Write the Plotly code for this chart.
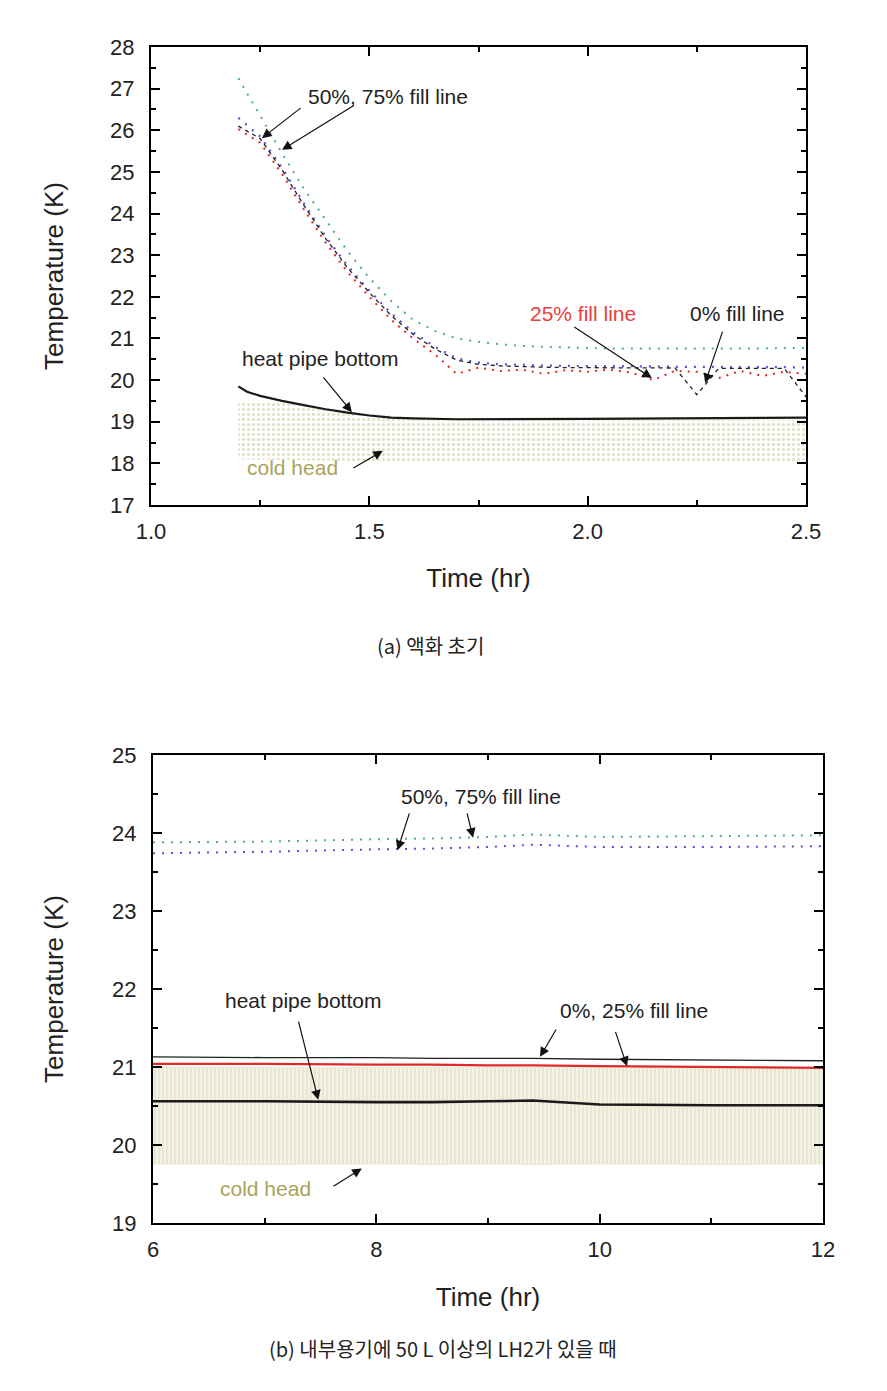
import plotly.graph_objects as go

# ---------------- (a) data ----------------
t_a = [1.20, 1.25, 1.30, 1.35, 1.40, 1.45, 1.50, 1.55, 1.60, 1.65, 1.70, 1.75, 1.80, 1.85,
       1.90, 1.95, 2.00, 2.05, 2.10, 2.15, 2.20, 2.25, 2.30, 2.35, 2.40, 2.45, 2.50]
fill75_a = [27.25, 26.35, 25.45, 24.6, 23.85, 23.1, 22.45, 21.9, 21.45, 21.18, 21.0, 20.92, 20.86, 20.82,
            20.8, 20.78, 20.77, 20.76, 20.76, 20.75, 20.75, 20.75, 20.75, 20.76, 20.76, 20.77, 20.77]
fill50_a = [26.3, 25.85, 25.1, 24.25, 23.45, 22.75, 22.15, 21.6, 21.15, 20.8, 20.52, 20.42, 20.38, 20.36,
            20.35, 20.34, 20.34, 20.33, 20.33, 20.33, 20.32, 20.32, 20.32, 20.31, 20.31, 20.31, 20.3]
fill25_a = [26.03, 25.7, 24.95, 24.1, 23.3, 22.6, 22.0, 21.45, 21.0, 20.62, 20.15, 20.3, 20.22, 20.25,
            20.15, 20.24, 20.2, 20.25, 20.18, 20.0, 20.22, 20.2, 20.05, 20.22, 20.1, 20.2, 20.15]
fill0_a = [26.1, 25.8, 25.05, 24.2, 23.4, 22.7, 22.1, 21.55, 21.1, 20.75, 20.48, 20.38, 20.34, 20.32,
           20.31, 20.3, 20.3, 20.3, 20.29, 20.29, 20.29, 19.65, 20.28, 20.28, 20.28, 20.28, 19.6]
t_hp_a = [1.20, 1.22, 1.25, 1.30, 1.35, 1.40, 1.45, 1.50, 1.55, 1.60, 1.70, 1.80, 2.00, 2.20, 2.40, 2.50]
hp_a = [19.85, 19.72, 19.62, 19.5, 19.4, 19.3, 19.22, 19.15, 19.1, 19.08, 19.06, 19.06, 19.07, 19.08, 19.09, 19.1]
t_ch_a = [1.20, 1.30, 1.40, 1.50, 1.60, 1.70, 1.80, 2.00, 2.20, 2.40, 2.50]
ch_hi_a = [19.5, 19.45, 19.35, 19.2, 19.1, 19.05, 19.05, 19.05, 19.05, 19.05, 19.05]
ch_lo_a = [18.1, 18.08, 18.06, 18.05, 18.05, 18.05, 18.05, 18.05, 18.05, 18.05, 18.05]

# ---------------- (b) data ----------------
t_b = [6, 7, 8, 8.5, 9, 9.4, 10, 11, 12]
fill75_b = [23.88, 23.89, 23.92, 23.93, 23.95, 23.98, 23.95, 23.96, 23.97]
fill50_b = [23.74, 23.76, 23.79, 23.8, 23.82, 23.85, 23.82, 23.82, 23.83]
fill0_b = [21.13, 21.12, 21.12, 21.11, 21.11, 21.11, 21.1, 21.09, 21.08]
fill25_b = [21.04, 21.04, 21.03, 21.03, 21.02, 21.02, 21.01, 21.0, 20.99]
hp_b = [20.56, 20.56, 20.55, 20.55, 20.56, 20.57, 20.52, 20.51, 20.51]
ch_hi_b = [21.0, 21.0, 21.0, 21.0, 21.0, 21.0, 21.0, 20.99, 20.98]
ch_lo_b = [19.75, 19.74, 19.75, 19.74, 19.75, 19.74, 19.75, 19.74, 19.75]

x_ticks_a = [1.0, 1.5, 2.0, 2.5]
x_ticks_b = [6, 8, 10, 12]

TEAL = "#4fa9a6"
PURPLE = "#5b4fd6"
RED = "#e02828"
KHAKI = "#a9a45a"
FONT = "Liberation Sans, Arial, sans-serif"

fig = go.Figure()

def add_band(t, lo, hi, xa, ya, shape, fg, bg, size, sol):
    fig.add_trace(go.Scatter(x=t, y=lo, mode="lines", line=dict(width=0, color=fg),
                             xaxis=xa, yaxis=ya, showlegend=False, hoverinfo="skip"))
    fig.add_trace(go.Scatter(x=t, y=hi, mode="lines", line=dict(width=0, color=fg),
                             fill="tonexty", fillcolor=bg,
                             fillpattern=dict(shape=shape, fgcolor=fg, bgcolor=bg, size=size, solidity=sol),
                             xaxis=xa, yaxis=ya, showlegend=False, hoverinfo="skip"))

# (a)
add_band(t_ch_a, ch_lo_a, ch_hi_a, "x", "y", ".", "#c2bd88", "rgba(255,255,255,0)", 5, 0.3)
fig.add_trace(go.Scatter(x=t_a, y=fill75_a, mode="lines", line=dict(color=TEAL, width=2, dash="2px,7px"),
                         xaxis="x", yaxis="y", showlegend=False))
fig.add_trace(go.Scatter(x=t_a, y=fill25_a, mode="lines", line=dict(color=RED, width=2, dash="2px,6px"),
                         xaxis="x", yaxis="y", showlegend=False))
fig.add_trace(go.Scatter(x=t_a, y=fill50_a, mode="lines", line=dict(color=PURPLE, width=2.2, dash="2px,7px"),
                         xaxis="x", yaxis="y", showlegend=False))
fig.add_trace(go.Scatter(x=t_a, y=fill0_a, mode="lines", line=dict(color="#222222", width=1.3, dash="4px,4px"),
                         xaxis="x", yaxis="y", showlegend=False))
fig.add_trace(go.Scatter(x=t_hp_a, y=hp_a, mode="lines", line=dict(color="#1a1a1a", width=2.2),
                         xaxis="x", yaxis="y", showlegend=False))

# (b)
add_band(t_b, ch_lo_b, ch_hi_b, "x2", "y2", "|", "#cfc9a6", "#f4f2e4", 4, 0.3)
fig.add_trace(go.Scatter(x=t_b, y=fill75_b, mode="lines", line=dict(color=TEAL, width=2, dash="2px,7px"),
                         xaxis="x2", yaxis="y2", showlegend=False))
fig.add_trace(go.Scatter(x=t_b, y=fill50_b, mode="lines", line=dict(color=PURPLE, width=2, dash="2px,7px"),
                         xaxis="x2", yaxis="y2", showlegend=False))
fig.add_trace(go.Scatter(x=t_b, y=fill0_b, mode="lines", line=dict(color="#222222", width=1.4),
                         xaxis="x2", yaxis="y2", showlegend=False))
fig.add_trace(go.Scatter(x=t_b, y=fill25_b, mode="lines", line=dict(color=RED, width=2.2),
                         xaxis="x2", yaxis="y2", showlegend=False))
fig.add_trace(go.Scatter(x=t_b, y=hp_b, mode="lines", line=dict(color="#1a1a1a", width=2.6),
                         xaxis="x2", yaxis="y2", showlegend=False))

W, H = 887, 1391

def xdom(l, r):
    return [l / W, r / W]

def ydom(top, bot):
    return [1 - bot / H, 1 - top / H]

axis_common = dict(showline=True, linecolor="black", linewidth=2, mirror="ticks",
                   ticks="inside", ticklen=9, tickwidth=2, tickcolor="black",
                   showgrid=False, zeroline=False, automargin=False,
                   tickfont=dict(family=FONT, size=22, color="#222"))
title_font = dict(family=FONT, size=26, color="#222")
minor_common = dict(ticks="inside", ticklen=5, tickwidth=2, tickcolor="black")

fig.update_layout(
    width=W, height=H, margin=dict(l=0, r=0, t=0, b=0, autoexpand=False),
    paper_bgcolor="white", plot_bgcolor="white", showlegend=False,
    xaxis=dict(domain=xdom(151, 806), range=[1.0, 2.5], tickvals=x_ticks_a,
               ticktext=[f"{v:.1f}" for v in x_ticks_a], anchor="y", ticklabelstandoff=6,
               minor=dict(dtick=0.25, **minor_common),
               title=dict(text="Time (hr)", font=title_font, standoff=25),
               **axis_common),
    yaxis=dict(domain=ydom(47, 505), range=[17, 28], dtick=1, anchor="x", ticklabelstandoff=10,
               minor=dict(dtick=0.5, **minor_common),
               title=dict(text="Temperature (K)", font=title_font, standoff=39),
               **axis_common),
    xaxis2=dict(domain=xdom(153, 823), range=[6, 12], tickvals=x_ticks_b, anchor="y2", ticklabelstandoff=6,
                minor=dict(dtick=1, **minor_common),
                title=dict(text="Time (hr)", font=title_font, standoff=26),
                **axis_common),
    yaxis2=dict(domain=ydom(755, 1223), range=[19, 25], dtick=1, anchor="x2", ticklabelstandoff=10,
                minor=dict(dtick=0.5, **minor_common),
                title=dict(text="Temperature (K)", font=title_font, standoff=41),
                **axis_common),
)

def label(x, y, text, xr, yr, color="#222", size=21):
    fig.add_annotation(x=x, y=y, xref=xr, yref=yr, text=text, showarrow=False,
                       font=dict(family=FONT, size=size, color=color))

def arrow(xt, yt, xh, yh, xr, yr):
    fig.add_annotation(x=xh, y=yh, ax=xt, ay=yt, xref=xr, yref=yr, axref=xr, ayref=yr,
                       text="", showarrow=True, arrowhead=2, arrowsize=1.6, arrowwidth=1.2,
                       arrowcolor="#111")

# (a) annotations
label(1.543, 26.82, "50%, 75% fill line", "x", "y")
arrow(1.346, 26.56, 1.254, 25.81, "x", "y")
arrow(1.467, 26.61, 1.300, 25.53, "x", "y")
label(1.989, 21.61, "25% fill line", "x", "y", color="#e84040")
arrow(1.966, 21.30, 2.147, 20.05, "x", "y")
label(2.344, 21.61, "0% fill line", "x", "y")
arrow(2.31, 21.2, 2.269, 19.93, "x", "y")
label(1.387, 20.51, "heat pipe bottom", "x", "y")
arrow(1.392, 20.1, 1.46, 19.23, "x", "y")
label(1.323, 17.89, "cold head", "x", "y", color=KHAKI)
arrow(1.46, 17.87, 1.531, 18.3, "x", "y")

# (b) annotations
label(8.937, 24.47, "50%, 75% fill line", "x2", "y2")
arrow(8.30, 24.27, 8.19, 23.78, "x2", "y2")
arrow(8.81, 24.27, 8.866, 23.94, "x2", "y2")
label(7.343, 21.85, "heat pipe bottom", "x2", "y2")
arrow(7.30, 21.6, 7.48, 20.58, "x2", "y2")
label(10.307, 21.72, "0%, 25% fill line", "x2", "y2")
arrow(9.618, 21.5, 9.466, 21.13, "x2", "y2")
arrow(10.137, 21.47, 10.245, 21.01, "x2", "y2")
label(7.003, 19.44, "cold head", "x2", "y2", color=KHAKI)
arrow(7.603, 19.46, 7.87, 19.7, "x2", "y2")

# captions
CJK = "Noto Sans CJK KR, sans-serif"
fig.add_annotation(x=430 / W, y=1 - 645 / H, xref="paper", yref="paper", showarrow=False,
                   text="(a) 액화 초기", font=dict(family=CJK, size=20, color="#222"))
fig.add_annotation(x=443 / W, y=1 - 1365 / H, xref="paper", yref="paper", showarrow=False,
                   text="(b) 내부용기에 50 L 이상의 LH2가 있을 때", font=dict(family=CJK, size=20, color="#222"))

fig.write_html("out.html", config={"displayModeBar": False},
               post_script="document.body.style.margin='0';document.body.style.overflow='hidden';")
